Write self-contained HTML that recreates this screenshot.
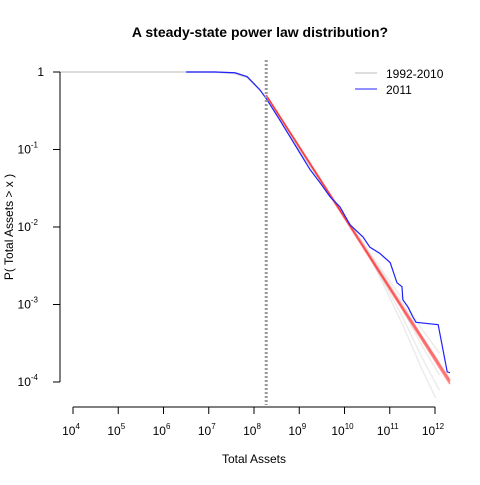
<!DOCTYPE html>
<html><head><meta charset="utf-8"><style>
body{margin:0;background:#fff;}
svg text{font-family:"Liberation Sans",Arial,sans-serif;}
</style></head><body>
<svg id="c" width="480" height="480" viewBox="0 0 480 480">
<defs><clipPath id="pc"><rect x="55" y="55" width="400" height="343"/></clipPath></defs>
<text x="260" y="37" text-anchor="middle" font-size="14" font-weight="bold">A steady-state power law distribution?</text>
<g id="plot" clip-path="url(#pc)"></g>
<g id="axes"></g>
<g>
<line x1="355" y1="73" x2="377" y2="73" stroke="#bbb" stroke-width="1"/>
<text x="386" y="78" font-size="12">1992-2010</text>
<line x1="355" y1="89" x2="377" y2="89" stroke="#2020ff" stroke-width="1"/>
<text x="386" y="94" font-size="12">2011</text>
</g>
<text x="254" y="463" text-anchor="middle" font-size="12">Total Assets</text>
<text transform="translate(13,227) rotate(-90)" text-anchor="middle" font-size="12">P( Total Assets &gt; x )</text>
</svg>
<script>
// data in log10 units
const xTicks=[4,5,6,7,8,9,10,11,12];
const yTicks=[0,-1,-2,-3,-4];
const yTickLabels=["1","10","10","10","10"];
const yTickExp=["","-1","-2","-3","-4"];
const cutoffLogX=8.27;
const blueLogX=[6.5,7.14,7.58,7.85,8.13,8.29,8.57,8.8,9.02,9.24,9.46,9.68,9.9,10.12,10.41,10.56,10.78,11.01,11.16,11.27,11.29,11.4,11.51,11.58,12.07,12.27,12.33];
const blueLogY=[0,0,-0.01,-0.06,-0.23,-0.36,-0.62,-0.84,-1.05,-1.26,-1.43,-1.61,-1.74,-1.97,-2.13,-2.26,-2.34,-2.46,-2.72,-2.77,-2.94,-3.03,-3.16,-3.23,-3.26,-3.87,-3.88];
const grayLogX=[3.7,6,7.14,7.58,7.85,8.13,8.29,8.57,9.02,9.46,9.9,10.4,10.9,11.3,11.7,12.1];
const grayLogY=[0,0,0,-0.02,-0.07,-0.23,-0.35,-0.6,-1.02,-1.4,-1.78,-2.2,-2.65,-3.0,-3.4,-3.75];
const grayTailShift=[0,-0.04,-0.09,-0.14,0.03];
const redSlopes=[-0.905,-0.911,-0.918];
const redStartY=-0.3;
const redEndX=12.33;

const X=v=>73+(v-4)*45.25, Y=v=>72-v*77.5;
const NS="http://www.w3.org/2000/svg";
const plot=document.getElementById('plot'), axes=document.getElementById('axes');
function mk(t,a,p){const e=document.createElementNS(NS,t);for(const k in a)e.setAttribute(k,a[k]);(p||plot).appendChild(e);return e;}

grayTailShift.forEach(off=>{
  const pts=grayLogX.map((x,j)=>X(x)+','+Y(grayLogY[j]+(j>11?off*(j-11):0))).join(' ');
  const e=mk('polyline',{points:pts,fill:'none',stroke:'#d4d4d4','stroke-opacity':0.45,'stroke-width':1.5});
  
  
});
redSlopes.forEach(s=>{
  const e=mk('line',{x1:X(cutoffLogX),y1:Y(redStartY),x2:X(redEndX),y2:Y(redStartY+s*(redEndX-cutoffLogX)),stroke:'#ff2020','stroke-opacity':0.5,'stroke-width':1.6});
  
  
});
const cut=mk('line',{x1:X(cutoffLogX),y1:60,x2:X(cutoffLogX),y2:405,stroke:'#9a9a9a','stroke-width':3,'stroke-dasharray':'2,2'},axes);


const bl=mk('polyline',{points:blueLogX.map((x,j)=>X(x)+','+Y(blueLogY[j])).join(' '),fill:'none',stroke:'#2020ff','stroke-width':1.2});



const xa=mk('line',{x1:X(4),y1:407,x2:X(12),y2:407,stroke:'#000'},axes);


xTicks.forEach(t=>{
  mk('line',{x1:X(t),y1:407,x2:X(t),y2:414,stroke:'#000'},axes);
  const tx=mk('text',{x:X(t)-2,y:435,'text-anchor':'middle','font-size':12},axes);
  
  
  tx.innerHTML='10<tspan dy="-6" font-size="8">'+t+'</tspan>';
});
const ya=mk('line',{x1:60,y1:Y(0),x2:60,y2:Y(-4),stroke:'#000'},axes);


yTicks.forEach((t,i)=>{
  mk('line',{x1:53,y1:Y(t),x2:60,y2:Y(t),stroke:'#000'},axes);
  const tx=mk('text',{x:yTickExp[i]?38:44,y:Y(t)+4,'text-anchor':'end','font-size':12},axes);
  
  
  tx.innerHTML=yTickLabels[i]+(yTickExp[i]?'<tspan dy="-6" font-size="8">'+yTickExp[i]+'</tspan>':'');
});
</script>
</body></html>
